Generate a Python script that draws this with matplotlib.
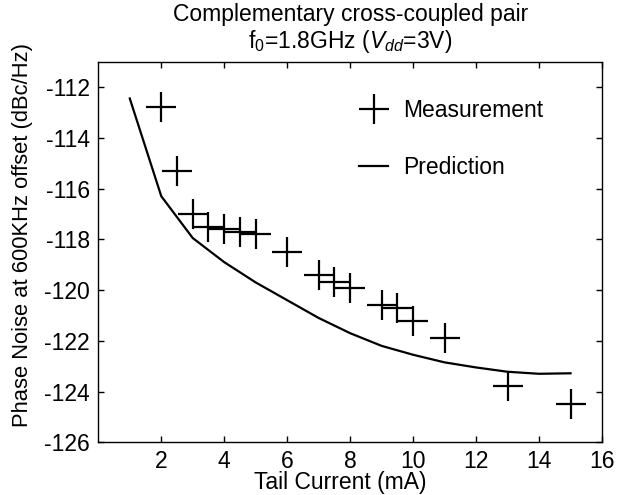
import matplotlib
matplotlib.use("Agg")
import matplotlib.pyplot as plt

plt.rcParams['font.family'] = ['Liberation Sans', 'DejaVu Sans']
plt.rcParams['mathtext.fontset'] = 'custom'
plt.rcParams['mathtext.rm'] = 'Liberation Sans'
plt.rcParams['mathtext.it'] = 'Liberation Sans:italic'
plt.rcParams['axes.unicode_minus'] = False

meas_x = [2, 2.5, 3, 3.5, 4, 4.5, 5, 6, 7, 7.5, 8, 9, 9.5, 10, 11, 13, 15]
meas_y = [-112.8, -115.3, -117.0, -117.5, -117.6, -117.7, -117.8, -118.5,
          -119.4, -119.7, -119.9, -120.6, -120.7, -121.2, -121.9, -123.8, -124.5]

pred_x = [1, 2, 3, 4, 5, 6, 7, 8, 9, 10, 11, 12, 13, 14, 15]
pred_y = [-112.45, -116.3, -117.95, -118.9, -119.7, -120.4, -121.1, -121.7,
          -122.2, -122.55, -122.85, -123.05, -123.22, -123.3, -123.28]

xticks = [2, 4, 6, 8, 10, 12, 14, 16]
yticks = [-126, -124, -122, -120, -118, -116, -114, -112]

FS = 16.5
W, H = 626, 495
L, R, T, B = 98.3, 602, 61.7, 442.3

fig = plt.figure(figsize=(W/100, H/100), dpi=100)
ax = fig.add_axes([L/W, 1 - B/H, (R - L)/W, (B - T)/H])

ax.plot(meas_x, meas_y, linestyle='none', marker='+', markersize=21,
        markeredgewidth=1.6, color='black', label='Measurement')
ax.plot(pred_x, pred_y, color='black', linewidth=1.6, label='Prediction')

ax.set_xlim(0, 16)
ax.set_ylim(-126, -111)
ax.set_xticks(xticks)
ax.set_yticks(yticks)
ax.tick_params(direction='in', top=True, right=True, length=4, width=1,
               labelsize=FS, pad=6)
ax.tick_params(axis='x', pad=5.5)
for s in ax.spines.values():
    s.set_linewidth(1)

ax.set_xlabel('Tail Current (mA)', fontsize=FS)
ax.xaxis.set_label_coords((340 - L)/(R - L), -(489 - B)/(B - T))
ax.xaxis.label.set_verticalalignment('baseline')
ax.set_ylabel('Phase Noise at 600KHz offset (dBc/Hz)', fontsize=15.8)
ax.yaxis.set_label_coords(-(L - 23)/(R - L), (B - 235)/(B - T))
ax.yaxis.label.set_verticalalignment('center')
ax.set_title('Complementary cross-coupled pair\n' + r'f$_0$=1.8GHz ($V_{dd}$=3V)',
             fontsize=FS, linespacing=1.1, pad=10)

leg = ax.legend(loc='upper left', bbox_to_anchor=(0.5, 0.925), frameon=False,
                fontsize=FS, handlelength=1.27, handletextpad=0.65,
                labelspacing=1.45, borderaxespad=0)

fig.savefig('out.png', dpi=100)
